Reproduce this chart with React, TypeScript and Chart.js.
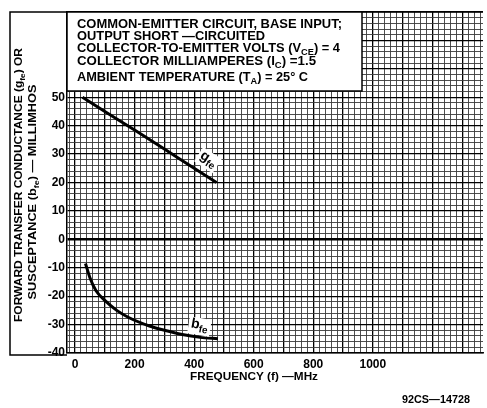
import React, { useEffect, useRef } from "react";
import { Chart, registerables } from "chart.js";

Chart.register(...registerables);

// ---- data ----
const gfeFreq = [25, 100, 200, 300, 400, 475];
const gfeVals = [50, 45, 38.5, 31.8, 25, 20];
const bfeFreq = [35, 50, 70, 100, 140, 180, 250, 300, 360, 420, 480];
const bfeVals = [-8.5, -13.5, -18, -21.5, -25, -27.5, -30.5, -32, -33.5, -34.5, -35];
const xTickLabels = [0, 200, 400, 600, 800, 1000];
const yTickLabels = [-40, -30, -20, -10, 0, 10, 20, 30, 40, 50];
const xMin = -27;
const xMax = 1370;
const yMin = -40;
const yMax = 80;
const xGridStep = 20;
const yGridStep = 2;

type Seg = { t: string; sub?: boolean };

const infoLines: Seg[][] = [
  [{ t: "COMMON-EMITTER CIRCUIT, BASE INPUT;" }],
  [{ t: "OUTPUT SHORT \u2014CIRCUITED" }],
  [{ t: "COLLECTOR-TO-EMITTER VOLTS (V" }, { t: "CE", sub: true }, { t: ") = 4" }],
  [{ t: "COLLECTOR MILLIAMPERES (I" }, { t: "C", sub: true }, { t: ") =1.5" }],
  [{ t: "AMBIENT TEMPERATURE (T" }, { t: "A", sub: true }, { t: ") = 25\u00b0 C" }],
];
const yTitle1: Seg[] = [{ t: "FORWARD TRANSFER CONDUCTANCE (g" }, { t: "fe", sub: true }, { t: ") OR" }];
const yTitle2: Seg[] = [{ t: "SUSCEPTANCE (b" }, { t: "fe", sub: true }, { t: ") \u2014 MILLIMHOS" }];
const xTitle: Seg[] = [{ t: "FREQUENCY (f) \u2014MHz" }];
const footer: Seg[] = [{ t: "92CS\u201414728" }];
const curveLabels = [
  { name: "g", sub: "fe", x: 447, y: 28, angle: 33 },
  { name: "b", sub: "fe", x: 418, y: -30.5, angle: 10 },
];

const FONT = '"Liberation Sans", Arial, sans-serif';

function drawRich(
  ctx: CanvasRenderingContext2D,
  segs: Seg[],
  x: number,
  y: number,
  size: number,
  align: "left" | "center",
  targetWidth?: number
) {
  const main = `bold ${size}px ${FONT}`;
  const sub = `bold ${Math.round(size * 0.72)}px ${FONT}`;
  const widths: number[] = [];
  let w = 0;
  for (const s of segs) {
    ctx.font = s.sub ? sub : main;
    const m = ctx.measureText(s.t).width;
    widths.push(m);
    w += m;
  }
  const sc = targetWidth ? targetWidth / w : 1;
  ctx.save();
  ctx.translate(x, y);
  ctx.scale(sc, 1);
  ctx.fillStyle = "#000";
  ctx.textBaseline = "middle";
  ctx.textAlign = "left";
  let cx = align === "center" ? -w / 2 : 0;
  segs.forEach((s, i) => {
    ctx.font = s.sub ? sub : main;
    ctx.fillText(s.t, cx, s.sub ? size * 0.32 : 0);
    cx += widths[i];
  });
  ctx.restore();
}

const decor = {
  id: "decor",
  afterDraw(chart: any) {
    const ctx: CanvasRenderingContext2D = chart.ctx;
    const { left, top, right, bottom } = chart.chartArea;
    const xs = chart.scales.x;
    const ys = chart.scales.y;
    ctx.save();
    // outer frame
    ctx.strokeStyle = "#000";
    ctx.lineWidth = 1.5;
    ctx.beginPath();
    ctx.moveTo(left, bottom + 2);
    ctx.lineTo(10, bottom + 2);
    ctx.lineTo(10, top);
    ctx.lineTo(right, top);
    ctx.stroke();

    // info box
    const bx = left, by = top, bw = 362 - left, bh = 91 - top;
    ctx.fillStyle = "#fff";
    ctx.fillRect(bx, by, bw, bh);
    ctx.lineWidth = 1.5;
    ctx.strokeRect(bx, by, bw, bh);
    const lineY = [25, 37, 49, 62, 78];
    const lineW = [265, 188, 263, 239, 231];
    infoLines.forEach((segs, i) => drawRich(ctx, segs, 77, lineY[i], 12.5, "left", lineW[i]));

    // y title (rotated)
    ctx.save();
    ctx.translate(19, 185);
    ctx.rotate(-Math.PI / 2);
    drawRich(ctx, yTitle1, 0, 0, 11.5, "center", 274);
    ctx.restore();
    ctx.save();
    ctx.translate(33, 192);
    ctx.rotate(-Math.PI / 2);
    drawRich(ctx, yTitle2, 0, 0, 11.5, "center", 215);
    ctx.restore();

    // x title and footer
    drawRich(ctx, xTitle, 254, 377, 11.5, "center", 128);
    drawRich(ctx, footer, 436, 400, 10, "center", 68);

    // curve labels
    for (const c of curveLabels) {
      const px = xs.getPixelForValue(c.x);
      const py = ys.getPixelForValue(c.y);
      ctx.save();
      ctx.translate(px, py);
      ctx.rotate((c.angle * Math.PI) / 180);
      ctx.fillStyle = "#fff";
      ctx.fillRect(-11, -8, 22, 17);
      drawRich(ctx, [{ t: c.name }, { t: c.sub, sub: true }], 0, -1, 14, "center");
      ctx.restore();
    }
    ctx.restore();
  },
};

function gridTicks(min: number, max: number, step: number) {
  const t: { value: number }[] = [];
  for (let v = Math.ceil(min / step) * step; v <= max; v += step) t.push({ value: v });
  return t;
}

export default function App() {
  const ref = useRef<HTMLCanvasElement>(null);
  useEffect(() => {
    if (!ref.current) return;
    const chart = new Chart(ref.current, {
      type: "line",
      data: {
        datasets: [
          {
            label: "gfe",
            data: gfeFreq.map((f, i) => ({ x: f, y: gfeVals[i] })),
            borderColor: "#000",
            borderWidth: 3,
            pointRadius: 0,
            cubicInterpolationMode: "monotone",
            fill: false,
          },
          {
            label: "bfe",
            data: bfeFreq.map((f, i) => ({ x: f, y: bfeVals[i] })),
            borderColor: "#000",
            borderWidth: 3,
            pointRadius: 0,
            cubicInterpolationMode: "monotone",
            fill: false,
          },
        ],
      },
      options: {
        animation: false,
        responsive: false,
        devicePixelRatio: 1,
        layout: { padding: { top: 12, right: 4, left: 0, bottom: 0 } },
        plugins: { legend: { display: false }, tooltip: { enabled: false } },
        scales: {
          x: {
            type: "linear",
            min: xMin,
            max: xMax,
            afterBuildTicks: (s: any) => {
              s.ticks = gridTicks(xMin, xMax, xGridStep);
            },
            afterFit: (s: any) => {
              s.height = 55;
            },
            ticks: {
              autoSkip: false,
              maxRotation: 0,
              minRotation: 0,
              padding: 4,
              color: "#000",
              font: { family: FONT, size: 12, weight: "bold" },
              callback: (v: any) => (xTickLabels.includes(Number(v)) ? String(v) : ""),
            },
            grid: {
              drawTicks: false,
              color: (c: any) => (c.tick && c.tick.value % 100 === 0 ? "#000" : "#3a3a3a"),
              lineWidth: (c: any) => (c.tick && c.tick.value % 100 === 0 ? 1.3 : 0.9),
            },
            border: { display: true, color: "#000", width: 1.5 },
          },
          y: {
            type: "linear",
            min: yMin,
            max: yMax,
            afterBuildTicks: (s: any) => {
              s.ticks = gridTicks(yMin, yMax, yGridStep);
            },
            afterFit: (s: any) => {
              s.width = 67;
            },
            ticks: {
              autoSkip: false,
              padding: 2,
              color: "#000",
              font: { family: FONT, size: 12, weight: "bold" },
              callback: (v: any) => (yTickLabels.includes(Number(v)) ? String(v) : ""),
            },
            grid: {
              drawTicks: false,
              color: (c: any) => (c.tick && c.tick.value % 10 === 0 ? "#000" : "#3a3a3a"),
              lineWidth: (c: any) =>
                c.tick && c.tick.value === 0 ? 2.5 : c.tick && c.tick.value % 10 === 0 ? 1.3 : 0.9,
            },
            border: { display: true, color: "#000", width: 1.5 },
          },
        },
      },
      plugins: [decor],
    } as any);
    return () => chart.destroy();
  }, []);
  return (
    <div style={{ position: "absolute", left: 0, top: 0, width: 487, height: 408, background: "#fff" }}>
      <canvas ref={ref} width={487} height={408} style={{ width: 487, height: 408, display: "block" }} />
    </div>
  );
}
